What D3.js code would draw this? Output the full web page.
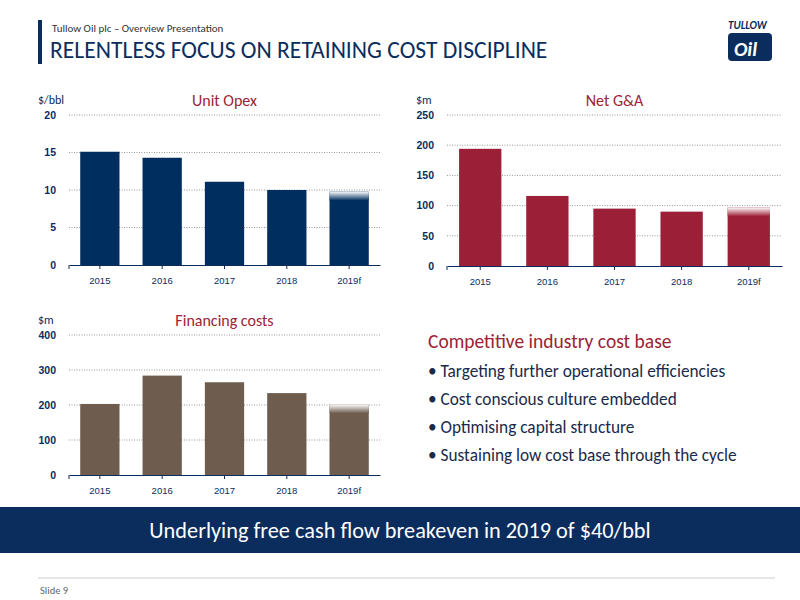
<!DOCTYPE html>
<html><head><meta charset="utf-8">
<script src="https://cdn.jsdelivr.net/npm/d3@7"></script>
<style>body{margin:0;background:#fff}svg{font-family:Calibri,Carlito,Lato,sans-serif}</style>
</head><body><svg width="800" height="600"></svg>
<script>
var years = ["2015","2016","2017","2018","2019f"];
var opex = [15.1, 14.3, 11.1, 10.0, 9.8];
var gna = [194, 116, 95, 90, 97];
var financing = [203, 284, 265, 234, 202];
var bullets = ["Targeting further operational efficiencies","Cost conscious culture embedded","Optimising capital structure","Sustaining low cost base through the cycle"];

var svg = d3.select("svg");
var defs = svg.append("defs");

// header
svg.append("rect").attr("x",38).attr("y",20).attr("width",4).attr("height",44).attr("fill","#0a2d5e");
svg.append("text").attr("x",52).attr("y",32).attr("font-size",11).attr("fill","#333").text("Tullow Oil plc – Overview Presentation");
svg.append("text").attr("x",50).attr("y",58).attr("font-size",23.6).attr("fill","#0a2d5e").text("RELENTLESS FOCUS ON RETAINING COST DISCIPLINE");
// logo
var logo = svg.append("g").attr("transform","translate(728,20)");
logo.append("text").attr("x",0).attr("y",9).attr("font-size",11).attr("font-weight","bold").attr("font-style","italic").attr("fill","#0a2d5e").text("TULLOW");
logo.append("rect").attr("x",0).attr("y",13).attr("width",44).attr("height",28).attr("rx",4).attr("fill","#0a2d5e");
logo.append("text").attr("x",6).attr("y",36).attr("font-size",20).attr("font-weight","bold").attr("font-style","italic").attr("fill","#fff").text("Oil");

function chart(id, data, max, step, color, title, unit, x0, x1, yTop, yBot) {
  var x = d3.scaleBand().domain(years).range([x0, x1]).paddingInner(0.37).paddingOuter(0.18);
  var y = d3.scaleLinear().domain([0, max]).range([yBot, yTop]);
  var g = svg.append("g");
  var ticks = d3.range(0, max + step, step);
  g.selectAll(".grid").data(ticks.slice(1)).enter().append("line")
    .attr("x1", x0).attr("x2", x1).attr("y1", y).attr("y2", y)
    .attr("stroke", "#999").attr("stroke-dasharray", "1,1.5");
  var grad = defs.append("linearGradient").attr("id", id).attr("x1",0).attr("x2",0).attr("y1",0).attr("y2",1);
  grad.append("stop").attr("offset","0%").attr("stop-color","#fff");
  grad.append("stop").attr("offset","100%").attr("stop-color",color);
  g.selectAll(".bar").data(data).enter().append("rect")
    .attr("x", function(d,i){return x(years[i]);}).attr("width", x.bandwidth())
    .attr("y", function(d){return y(d);}).attr("height", function(d){return yBot - y(d);})
    .attr("fill", color);
  // faded top of forecast bar
  var last = data[data.length-1];
  g.append("rect").attr("x", x(years[4])).attr("width", x.bandwidth())
    .attr("y", y(last)).attr("height", 9).attr("fill", "url(#" + id + ")");
  var ax = g.append("g").attr("transform","translate(0,"+yBot+")")
    .call(d3.axisBottom(x).tickSize(4).tickSizeOuter(0));
  ax.select(".domain").attr("stroke","#0a2d5e");
  ax.selectAll("line").attr("stroke","#0a2d5e");
  ax.selectAll("text").attr("font-size",9.5).attr("fill","#0a2d5e").attr("dy","1.3em");
  ax.insert("line",".tick").attr("x1",x0).attr("x2",x0).attr("y1",0).attr("y2",4).attr("stroke","#0a2d5e");
  var ay = g.append("g").attr("transform","translate("+(x0-10)+",0)")
    .call(d3.axisLeft(y).tickValues(ticks).tickSize(0));
  ay.select(".domain").remove();
  ay.selectAll("text").attr("font-size",10.5).attr("font-weight","bold").attr("fill","#0a2d5e");
  svg.append("text").attr("x", (x0+x1)/2).attr("y", yTop-9).attr("text-anchor","middle")
    .attr("font-size",16).attr("fill","#9b2335").text(title);
  svg.append("text").attr("x", x0-31).attr("y", yTop-11).attr("font-size",12).attr("fill","#0a2d5e").text(unit);
}

chart("g1", opex, 20, 5, "#002f5f", "Unit Opex", "$/bbl", 69, 380, 115, 265);
chart("g2", gna, 250, 50, "#9b1f36", "Net G&A", "$m", 447, 782, 115, 266);
chart("g3", financing, 400, 100, "#6e5c4e", "Financing costs", "$m", 69, 380, 335, 475);

// text block
svg.append("text").attr("x",428).attr("y",348).attr("font-size",19.5).attr("fill","#9b2335").text("Competitive industry cost base");
svg.selectAll(".b").data(bullets).enter().append("text")
  .attr("x",428).attr("y",function(d,i){return 377+i*28;}).attr("font-size",17.3).attr("fill","#1a2a4a")
  .text(function(d){return "•  " + d;});

// banner
svg.append("rect").attr("x",0).attr("y",507).attr("width",800).attr("height",46).attr("fill","#0a2d5e");
svg.append("text").attr("x",400).attr("y",538).attr("text-anchor","middle").attr("font-size",22.3).attr("fill","#fff")
  .text("Underlying free cash flow breakeven in 2019 of $40/bbl");
// footer
svg.append("line").attr("x1",38).attr("x2",775).attr("y1",578).attr("y2",578).attr("stroke","#ccc");
svg.append("text").attr("x",40).attr("y",594).attr("font-size",10.5).attr("fill","#666").text("Slide 9");
</script></body></html>
